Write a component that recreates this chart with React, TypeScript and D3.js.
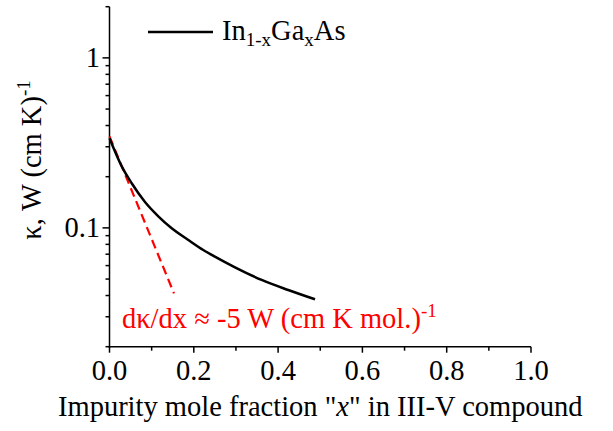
import React from "react";
import * as d3 from "d3";

const xCurve = [0.0, 0.029, 0.0527, 0.0842, 0.1158, 0.1476, 0.187, 0.2225, 0.25, 0.2977, 0.361, 0.424, 0.4875];
const kCurve = [0.3365, 0.23, 0.183, 0.142, 0.117, 0.0995, 0.0849, 0.0741, 0.0677, 0.0586, 0.0494, 0.0431, 0.038];
const xSlope = [0.0, 0.153];
const kSlope = [0.345, 0.0412];
const xMajor = [0, 0.2, 0.4, 0.6, 0.8, 1.0];
const xMinor = [0.1, 0.3, 0.5, 0.7, 0.9];
const yMajor = [0.1, 1];
const yMinor = [0.02, 0.03, 0.04, 0.05, 0.06, 0.07, 0.08, 0.09, 0.2, 0.3, 0.4, 0.5, 0.6, 0.7, 0.8, 0.9, 2];

const FONT = "Liberation Serif";
const ts = { fontFamily: FONT };

export default function App() {
  const L = 109.5, R = 531, T = 6.7, B = 346.7;
  const x = d3.scaleLinear().domain([0, 1]).range([L, R]);
  const y = d3.scaleLog().domain([0.02, 2]).range([B, T]);
  const line = d3.line<[number, number]>().x(d => x(d[0])).y(d => y(d[1])).curve(d3.curveMonotoneX);
  const curve = line(xCurve.map((v, i) => [v, kCurve[i]]) as [number, number][]) || "";
  const slope = d3.line<[number, number]>().x(d => x(d[0])).y(d => y(d[1]))(xSlope.map((v, i) => [v, kSlope[i]]) as [number, number][]) || "";
  const fs = 28.5;
  const ss = 19;
  return (
    <svg width={613} height={431} style={{ position: "absolute", left: 0, top: 0, background: "#fff" }}>
      <rect width={613} height={431} fill="#fff" />
      <line x1={L} x2={L} y1={T} y2={B + 0.75} stroke="#000" strokeWidth={1.5} />
      <line x1={L - 0.75} x2={R} y1={B} y2={B} stroke="#000" strokeWidth={1.5} />
      {xMajor.map(v => <line key={"xM" + v} x1={x(v)} x2={x(v)} y1={B} y2={B + 6} stroke="#000" strokeWidth={1.5} />)}
      {xMinor.map(v => <line key={"xm" + v} x1={x(v)} x2={x(v)} y1={B} y2={B + 4} stroke="#000" strokeWidth={1.5} />)}
      {yMajor.map(v => <line key={"yM" + v} x1={L} x2={L - 7} y1={y(v)} y2={y(v)} stroke="#000" strokeWidth={1.5} />)}
      {yMinor.map(v => <line key={"ym" + v} x1={L} x2={L - 4} y1={y(v)} y2={y(v)} stroke="#000" strokeWidth={1.5} />)}
      {xMajor.map(v => (
        <text key={"xl" + v} x={x(v)} y={380} fontSize={fs} textAnchor="middle" style={ts}>{v.toFixed(1)}</text>
      ))}
      {yMajor.map(v => (
        <text key={"yl" + v} x={100} y={y(v) + 9.5} fontSize={fs} textAnchor="end" style={ts}>{String(v)}</text>
      ))}
      <text x={(L + R) / 2} y={416} fontSize={fs} textAnchor="middle" style={ts}>
        Impurity mole fraction "<tspan fontStyle="italic">x</tspan>" in III-V compound
      </text>
      <text transform={`translate(41,160) rotate(-90)`} fontSize={fs} textAnchor="middle" style={ts}>
        κ, W (cm K)<tspan fontSize={ss} dy={-11}>-1</tspan>
      </text>
      <path d={slope} fill="none" stroke="#ff0000" strokeWidth={2.2} strokeDasharray="9,5" />
      <path d={curve} fill="none" stroke="#000" strokeWidth={2.5} />
      <line x1={148} x2={213} y1={32} y2={32} stroke="#000" strokeWidth={2.5} />
      <text x={222} y={40} fontSize={fs} style={ts}>
        In<tspan fontSize={ss} dy={6}>1-x</tspan><tspan dy={-6}>Ga</tspan><tspan fontSize={ss} dy={6}>x</tspan><tspan dy={-6}>As</tspan>
      </text>
      <text x={122} y={328} fontSize={fs} fill="#ff0000" style={ts}>
        dκ/dx ≈ -5 W (cm K mol.)<tspan fontSize={ss} dy={-11}>-1</tspan>
      </text>
    </svg>
  );
}
